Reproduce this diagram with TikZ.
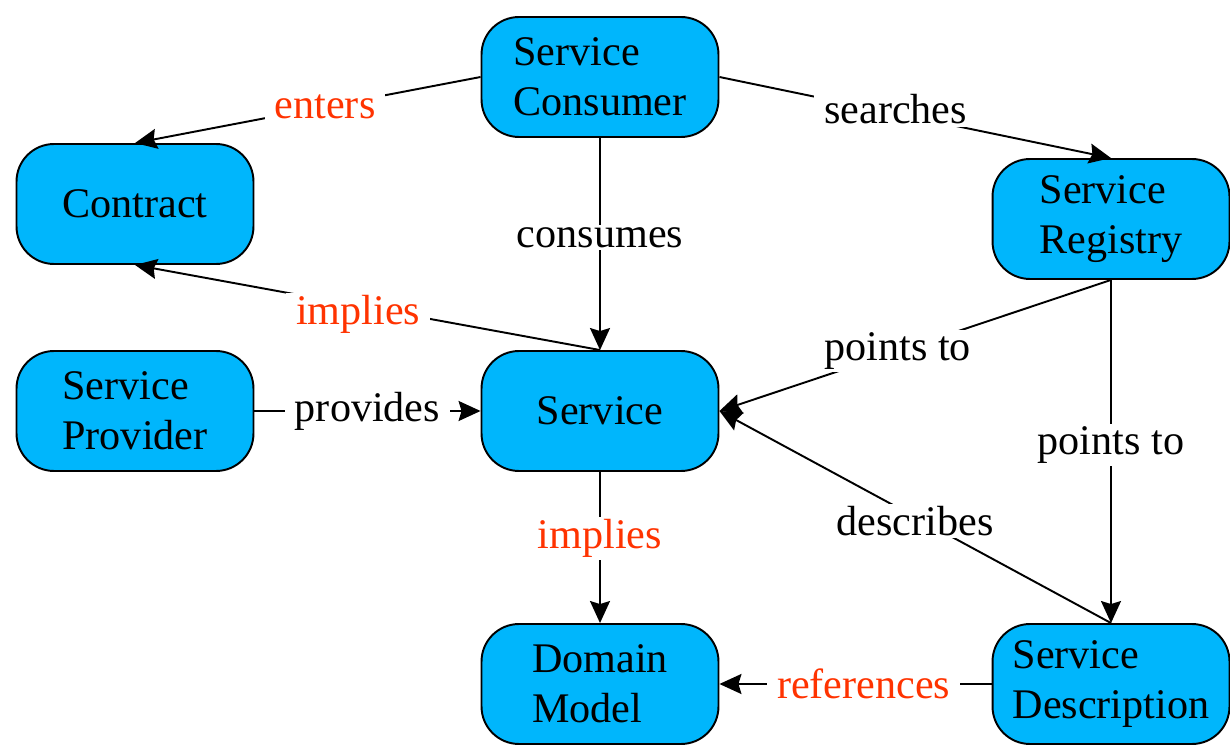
\documentclass[tikz,border=0pt]{standalone}
\usepackage{fontspec}
\setmainfont{Liberation Serif}
\usepackage{tikz}
\usetikzlibrary{arrows.meta,shapes,calc}
\usetikzlibrary{positioning}
\definecolor{clrBox}{RGB}{0,182,252}
\definecolor{clrRed}{RGB}{255,51,0}
\tikzstyle{box_style}=[draw, line width=1.1pt, rounded corners=0.75cm, fill=clrBox,
anchor=center, align=left, minimum width=4.74cm, minimum height=2.4cm,
font=\fontsize{24}{28.5}\selectfont]
\tikzstyle{myarrow}=[-{Stealth[length=4.4mm,width=4mm,inset=0.6mm]}, line width=1.1pt]
\tikzstyle{lbl}=[fill=white, inner xsep=0.2cm, inner ysep=0.05cm, font=\fontsize{24}{28.5}\selectfont]
\tikzstyle{lbl_red}=[lbl, text=clrRed]

\begin{document}
\begin{tikzpicture}[x=0.02cm,y=-0.02cm]
		\useasboundingbox (0,0) rectangle (1230,749);

		\node[box_style] (A) at (600,77) {Service\\Consumer} ;
		\node[box_style] (B) at (135,204) {Contract} ;
		\node[box_style] (C) at (1111,219) {Service\\Registry} ;
		\node[box_style] (D) at (135,411) {Service\\Provider} ;
		\node[box_style] (E) at (600,411) {Service} ;
		\node[box_style] (F) at (600,684) {Domain\\Model} ;
		\node[box_style] (G) at (1111,684) {Service\\Description} ;

		\draw[myarrow] (A.west) -- node[lbl_red, pos=0.45] {enters} (B.north) ;
		\draw[myarrow] (A.east) -- node[lbl, pos=0.45, yshift=0.08cm] {searches} (C.north) ;
		\draw[myarrow] (A.south) -- node[lbl, pos=0.47] {consumes} (E.north) ;
		\draw[myarrow] (E.north) -- node[lbl_red, pos=0.52, yshift=-0.18cm] {implies} (B.south) ;
		\draw[myarrow] (D.east) -- node[lbl, pos=0.5] {provides} (E.west) ;
		\draw[myarrow] (C.south) -- node[lbl, pos=0.545] {points to} (E.east) ;
		\draw[myarrow] (C.south) -- node[lbl, pos=0.48] {points to} (G.north) ;
		\draw[myarrow] (G.north) -- node[lbl, pos=0.5, yshift=-0.08cm] {describes} (E.east) ;
		\draw[myarrow] (E.south) -- node[lbl_red, pos=0.44] {implies} (F.north) ;
		\draw[myarrow] (G.west) -- node[lbl_red, pos=0.47] {references} (F.east) ;

	\end{tikzpicture}
\end{document}
